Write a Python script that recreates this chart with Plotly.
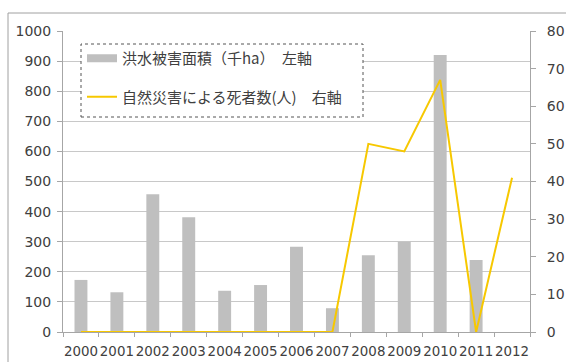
import plotly.graph_objects as go

# Data
years = ["2000", "2001", "2002", "2003", "2004", "2005", "2006",
         "2007", "2008", "2009", "2010", "2011", "2012"]
flood_area = [173, 132, 458, 381, 137, 156, 283, 79, 255, 300, 920, 239, None]  # 千ha, left axis
deaths = [0, 0, 0, 0, 0, 0, 0, 0, 50, 48, 67, 0, 41]  # 人, right axis

name_area = "洪水被害面積（千ha）\u3000左軸"
name_deaths = "自然災害による死者数(人)\u3000右軸"

TXT = "#404040"
AXIS = "#A6A6A6"
BAR = "#BFBFBF"
LINE = "#F7C800"
TICKFONT = dict(family="DejaVu Sans", size=14, color=TXT)
XTICKFONT = dict(family="DejaVu Sans", size=13.4, color=TXT)

fig = go.Figure()

fig.add_trace(go.Bar(
    x=years, y=flood_area, marker=dict(color=BAR, line=dict(width=0)),
    width=0.36, showlegend=False, yaxis="y", name=name_area,
))
fig.add_trace(go.Scatter(
    x=years, y=deaths, mode="lines", line=dict(color=LINE, width=2),
    yaxis="y2", showlegend=False, name=name_deaths,
))
# Legend entries: wide flat swatch for the bars, plain line for the deaths
fig.add_trace(go.Scatter(
    x=[None], y=[None], mode="lines", line=dict(color=BAR, width=8),
    name=name_area, legendgroup="area",
))
fig.add_trace(go.Scatter(
    x=[None], y=[None], mode="lines", line=dict(color=LINE, width=2),
    name=name_deaths, legendgroup="deaths",
))

W, H = 566, 362
ML, MR, MT, MB = 63, 36, 31, 30
pw, ph = W - ML - MR, H - MT - MB


def px_x(v):
    return (v - ML) / pw


def px_y(v):
    return 1 - (v - MT) / ph


fig.update_layout(
    template="none",
    width=W, height=H,
    margin=dict(l=ML, r=MR, t=MT, b=MB, pad=0),
    paper_bgcolor="white", plot_bgcolor="white",
    font=dict(family="Noto Sans CJK JP", color=TXT, size=13),
    xaxis=dict(
        type="category", automargin=False, tickangle=0,
        showline=True, linecolor=AXIS, linewidth=1,
        ticks="outside", tickson="boundaries", ticklen=4, tickcolor=AXIS,
        showgrid=False, tickfont=XTICKFONT, ticklabelstandoff=7,
    ),
    yaxis=dict(
        range=[0, 1000], dtick=100, automargin=False,
        showline=True, linecolor=AXIS, linewidth=1,
        ticks="outside", ticklen=5, tickcolor=AXIS,
        showgrid=True, gridcolor="#C8C8C8", gridwidth=1,
        zeroline=False, tickfont=TICKFONT, ticklabelstandoff=3,
    ),
    yaxis2=dict(
        range=[0, 80], dtick=10, overlaying="y", side="right", automargin=False,
        showline=True, linecolor=AXIS, linewidth=1,
        ticks="outside", ticklen=5, tickcolor=AXIS,
        showgrid=False, zeroline=False, tickfont=TICKFONT, ticklabelstandoff=8,
    ),
    legend=dict(
        x=px_x(82), y=px_y(42), xanchor="left", yanchor="top",
        bgcolor="rgba(255,255,255,0)", borderwidth=0,
        traceorder="grouped", tracegroupgap=16,
        font=dict(family="Noto Sans CJK JP", size=15, color=TXT),
        itemwidth=30,
    ),
    shapes=[
        # outer chart frame
        dict(type="rect", xref="paper", yref="paper",
             x0=px_x(8), x1=px_x(600), y0=px_y(400), y1=px_y(13),
             line=dict(color="#A0A0A0", width=1), layer="below"),
        # dotted legend frame
        dict(type="rect", xref="paper", yref="paper",
             x0=px_x(81), x1=px_x(363), y0=px_y(117), y1=px_y(44),
             line=dict(color="#555555", width=1, dash="dot"),
             fillcolor="white", layer="above"),
    ],
)

fig.write_html("out.html")
